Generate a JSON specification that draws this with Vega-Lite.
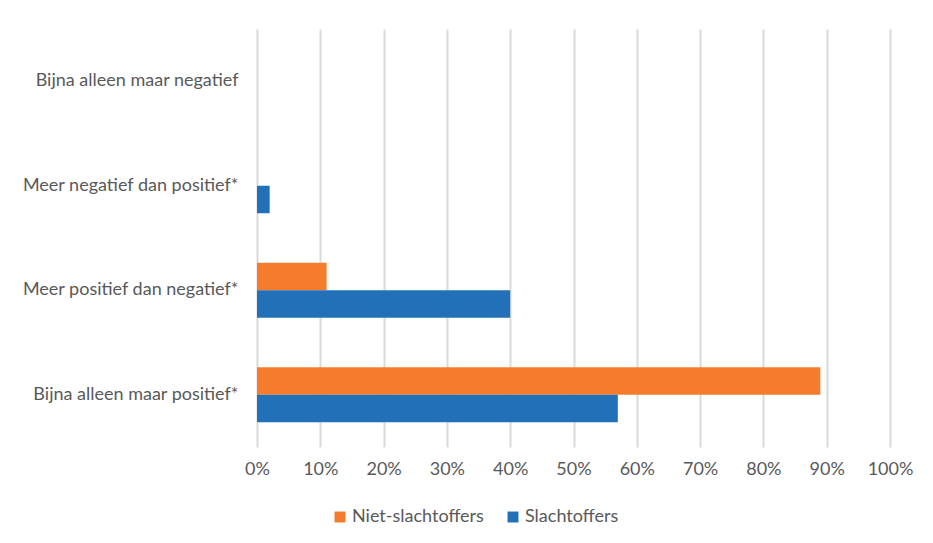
{
  "$schema": "https://vega.github.io/schema/vega-lite/v6.json",
  "width": 633,
  "height": 418,
  "autosize": {"type": "none"},
  "padding": {"left": 257, "top": 29, "right": 43, "bottom": 96},
  "background": "white",
  "data": {
    "values": [
      {"categorie": "Bijna alleen maar negatief", "groep": "Niet-slachtoffers", "pct": 0},
      {"categorie": "Bijna alleen maar negatief", "groep": "Slachtoffers", "pct": 0},
      {"categorie": "Meer negatief dan positief*", "groep": "Niet-slachtoffers", "pct": 0},
      {"categorie": "Meer negatief dan positief*", "groep": "Slachtoffers", "pct": 0.02},
      {"categorie": "Meer positief dan negatief*", "groep": "Niet-slachtoffers", "pct": 0.11},
      {"categorie": "Meer positief dan negatief*", "groep": "Slachtoffers", "pct": 0.40},
      {"categorie": "Bijna alleen maar positief*", "groep": "Niet-slachtoffers", "pct": 0.89},
      {"categorie": "Bijna alleen maar positief*", "groep": "Slachtoffers", "pct": 0.57}
    ]
  },
  "mark": {"type": "bar"},
  "encoding": {
    "y": {
      "field": "categorie",
      "type": "nominal",
      "sort": ["Bijna alleen maar negatief", "Meer negatief dan positief*", "Meer positief dan negatief*", "Bijna alleen maar positief*"],
      "scale": {"paddingInner": 0.474, "paddingOuter": 0.237},
      "axis": {"title": null, "ticks": false, "domain": false, "labelPadding": 19, "labelFontSize": 18, "labelColor": "#595959", "labelFont": "Lato", "labelLimit": 300}
    },
    "yOffset": {
      "field": "groep",
      "type": "nominal",
      "sort": ["Niet-slachtoffers", "Slachtoffers"],
      "scale": {"paddingInner": 0, "paddingOuter": 0}
    },
    "x": {
      "field": "pct",
      "type": "quantitative",
      "scale": {"domain": [0, 1], "nice": false},
      "axis": {"title": null, "format": ".0%", "values": [0,0.1,0.2,0.3,0.4,0.5,0.6,0.7,0.8,0.9,1], "labelOverlap": false, "labelFlush": false, "ticks": false, "domain": false, "labelPadding": 13, "labelFontSize": 18, "labelColor": "#595959", "labelFont": "Lato", "grid": true, "gridColor": "#d9d9d9", "gridWidth": 2}
    },
    "color": {
      "field": "groep",
      "type": "nominal",
      "scale": {"domain": ["Niet-slachtoffers", "Slachtoffers"], "range": ["#F47C2C", "#2271B8"]},
      "legend": {"title": null, "orient": "none", "legendX": 74, "legendY": 479, "direction": "horizontal", "symbolType": "square", "symbolSize": 120, "symbolStrokeWidth": 0, "labelFontSize": 18, "labelColor": "#595959", "labelFont": "Lato", "columnPadding": 20, "labelOffset": 3}
    }
  },
  "config": {"view": {"stroke": null}}
}
